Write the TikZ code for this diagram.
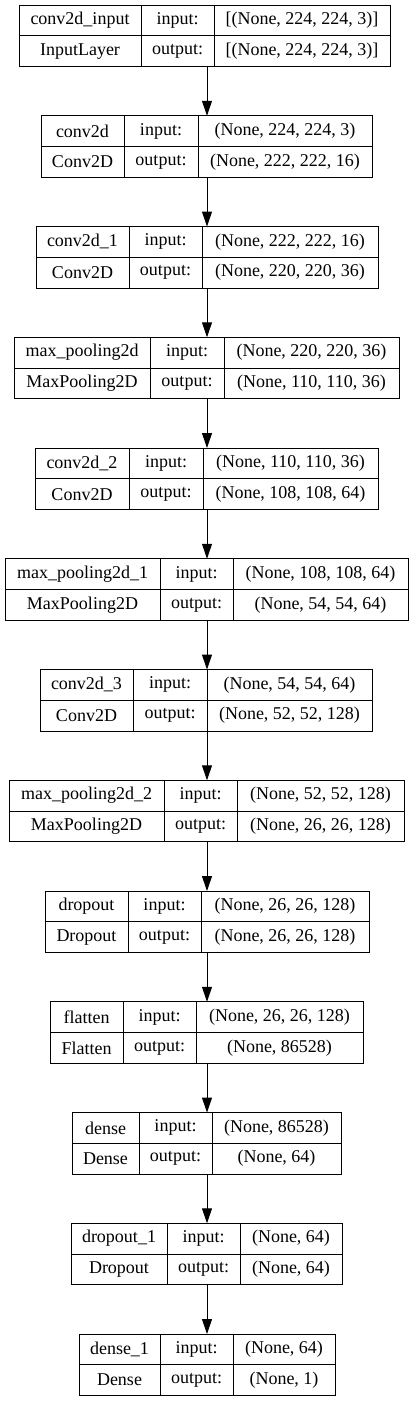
\documentclass[tikz,border=0pt]{standalone}
\usepackage{fontspec}
\setmainfont{Liberation Serif}
\usetikzlibrary{arrows.meta,positioning}

\begin{document}
\begin{tikzpicture}[x=1pt, y=-1pt,
			cell/.style={draw, rectangle, line width=1pt, inner sep=0pt, outer sep=0pt, anchor=north west, minimum height=30.75pt, font=\fontsize{18}{21}\selectfont},
			arrowStrong/.style={line width=1pt, -{Triangle[length=15pt, width=10pt]}},
			]
			\useasboundingbox (0,0) rectangle (413,1401);
			\coordinate (axis) at (207,0);
			
			% layers
			\foreach \i/\xa/\xb/\xc/\xd/\nm/\cl/\ii/\oo in {
				1/19/141/214/390/conv2d\_input/InputLayer/{[(None, 224, 224, 3)]}/{[(None, 224, 224, 3)]},
				2/41/124/198/372/conv2d/Conv2D/{(None, 224, 224, 3)}/{(None, 222, 222, 16)},
				3/36/129/202/378/conv2d\_1/Conv2D/{(None, 222, 222, 16)}/{(None, 220, 220, 36)},
				4/14/150/224/399/max\_pooling2d/MaxPooling2D/{(None, 220, 220, 36)}/{(None, 110, 110, 36)},
				5/35/129/203/378/conv2d\_2/Conv2D/{(None, 110, 110, 36)}/{(None, 108, 108, 64)},
				6/5/160/233/408/max\_pooling2d\_1/MaxPooling2D/{(None, 108, 108, 64)}/{(None, 54, 54, 64)},
				7/40/133/207/372/conv2d\_3/Conv2D/{(None, 54, 54, 64)}/{(None, 52, 52, 128)},
				8/9/164/237/404/max\_pooling2d\_2/MaxPooling2D/{(None, 52, 52, 128)}/{(None, 26, 26, 128)},
				9/45/128/201/369/dropout/Dropout/{(None, 26, 26, 128)}/{(None, 26, 26, 128)},
				10/50/123/196/363/flatten/Flatten/{(None, 26, 26, 128)}/{(None, 86528)},
				11/72/139/212/341/dense/Dense/{(None, 86528)}/{(None, 64)},
				12/71/167/240/342/dropout\_1/Dropout/{(None, 64)}/{(None, 64)},
				13/79/160/233/335/dense\_1/Dense/{(None, 64)}/{(None, 1)}}
			{
				\pgfmathsetmacro\yt{5+(\i-1)*110.75}
				\pgfmathsetmacro\ym{\yt+30.75}
				\draw node[cell, minimum width={(\xb-\xa)*1pt}] (nm\i) at (\xa,\yt) {\nm};
				\draw node[cell, minimum width={(\xb-\xa)*1pt}] (cl\i) at (\xa,\ym) {\cl};
				\draw node[cell, minimum width={(\xc-\xb)*1pt}] (ia\i) at (\xb,\yt) {input:};
				\draw node[cell, minimum width={(\xc-\xb)*1pt}] (oa\i) at (\xb,\ym) {output:};
				\draw node[cell, minimum width={(\xd-\xc)*1pt}] (is\i) at (\xc,\yt) {\ii};
				\draw node[cell, minimum width={(\xd-\xc)*1pt}] (os\i) at (\xc,\ym) {\oo};
			}
			
			% Arrow
			\foreach \i in {1,...,12}
			{\pgfmathtruncatemacro\j{\i+1}
			\draw [arrowStrong] (os\i.south -| axis) -- (is\j.north -| axis);}
			
\end{tikzpicture}
\end{document}
